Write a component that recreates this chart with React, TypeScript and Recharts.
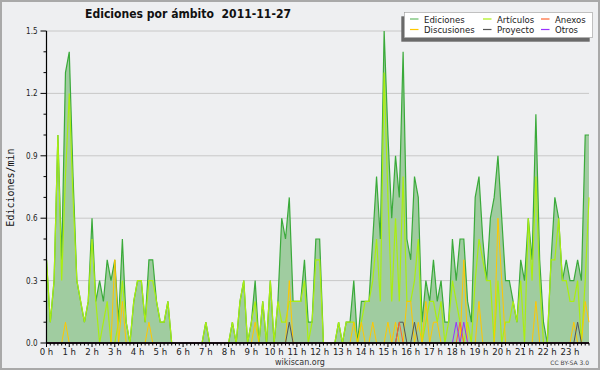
import { ComposedChart, Area, Line, XAxis, YAxis, CartesianGrid, ReferenceLine } from 'recharts';

// 10-minute slots, 0:00 .. 23:50 (values are edits per minute)
const EDICIONES = [
  0.4, 0.1, 0.3, 1.0, 0.4, 1.3, 1.4, 0.8, 0.3, 0.2, 0.1, 0.2,
  0.6, 0.2, 0.3, 0.2, 0.4, 0.3, 0.4, 0.1, 0.5, 0.1, 0, 0.2,
  0.3, 0.3, 0.1, 0.4, 0.4, 0.2, 0.1, 0.1, 0.2, 0, 0, 0,
  0, 0, 0, 0, 0, 0, 0.1, 0, 0, 0, 0, 0,
  0, 0.1, 0, 0.2, 0.3, 0, 0.1, 0.3, 0, 0.2, 0, 0.3,
  0, 0.2, 0.6, 0.5, 0.7, 0.2, 0.2, 0.2, 0.4, 0.1, 0.1, 0.5,
  0.5, 0, 0, 0, 0, 0.1, 0, 0.1, 0.1, 0.3, 0, 0.2,
  0.2, 0.2, 0.5, 0.8, 0.5, 1.5, 1.0, 0.6, 0.9, 0.7, 1.4, 0.5,
  0.4, 0.8, 0.7, 0.1, 0.3, 0.2, 0.4, 0.2, 0.3, 0.1, 0.1, 0.5,
  0.3, 0.5, 0.5, 0.2, 0.1, 0.7, 0.8, 0.5, 0.3, 0.6, 0.7, 0.9,
  0.6, 0.3, 0.3, 0.2, 0.1, 0.4, 0.3, 0.6, 0.4, 1.1, 0.4, 0.1,
  0, 0.4, 0.7, 0.6, 0.3, 0.4, 0.3, 0.3, 0.4, 0.3, 1.0, 1.0,
];

const ARTICULOS = [
  0.4, 0.1, 0.3, 1.0, 0.3, 0.8, 1.2, 0.7, 0.3, 0.2, 0.1, 0.2,
  0.5, 0.2, 0, 0.1, 0.2, 0, 0, 0.1, 0.3, 0.1, 0, 0.2,
  0.3, 0.3, 0.1, 0.3, 0.3, 0.2, 0.1, 0.1, 0.2, 0, 0, 0,
  0, 0, 0, 0, 0, 0, 0.1, 0, 0, 0, 0, 0,
  0, 0.1, 0, 0.2, 0.3, 0, 0.1, 0.2, 0, 0.2, 0, 0.3,
  0, 0.2, 0.1, 0.1, 0.2, 0.2, 0.2, 0.2, 0.3, 0, 0.1, 0.4,
  0.4, 0, 0, 0, 0, 0.1, 0, 0.1, 0.1, 0.1, 0, 0.1,
  0.2, 0.2, 0.3, 0.5, 0.2, 1.3, 0.7, 0.2, 0.6, 0.2, 0.8, 0.2,
  0.2, 0.3, 0.5, 0, 0.1, 0.2, 0.2, 0.1, 0.2, 0, 0.1, 0.3,
  0.2, 0.1, 0, 0.1, 0, 0.3, 0.5, 0.4, 0.3, 0.3, 0, 0.3,
  0, 0.1, 0.1, 0.2, 0.1, 0.3, 0, 0.6, 0.3, 0.8, 0.3, 0,
  0, 0.4, 0.4, 0.6, 0.3, 0.3, 0.2, 0.2, 0.3, 0, 0.3, 0.7,
];

const DISCUSIONES = [
  0, 0, 0, 0, 0, 0.1, 0, 0, 0, 0, 0, 0,
  0, 0, 0, 0, 0, 0, 0.4, 0, 0.2, 0, 0, 0,
  0, 0, 0, 0.1, 0, 0, 0, 0, 0, 0, 0, 0,
  0, 0, 0, 0, 0, 0, 0, 0, 0, 0, 0, 0,
  0, 0, 0, 0, 0, 0, 0, 0.1, 0, 0, 0, 0,
  0, 0, 0, 0, 0.3, 0, 0, 0, 0, 0, 0, 0,
  0, 0, 0, 0, 0, 0, 0, 0, 0, 0.1, 0, 0.1,
  0, 0, 0.1, 0, 0, 0, 0.1, 0, 0.1, 0, 0, 0.2,
  0.2, 0, 0.1, 0, 0.2, 0, 0.1, 0.1, 0, 0, 0, 0,
  0, 0, 0.4, 0, 0, 0, 0.2, 0, 0, 0, 0, 0.6,
  0.3, 0, 0, 0, 0, 0, 0, 0, 0, 0.2, 0, 0,
  0, 0, 0, 0, 0, 0, 0, 0.1, 0, 0, 0.2, 0.1,
];

const PROYECTO = [
  0, 0, 0, 0, 0, 0, 0, 0, 0, 0, 0, 0,
  0, 0, 0, 0, 0, 0, 0, 0, 0, 0, 0, 0,
  0, 0, 0, 0, 0, 0, 0, 0, 0, 0, 0, 0,
  0, 0, 0, 0, 0, 0, 0, 0, 0, 0, 0, 0,
  0, 0, 0, 0, 0, 0, 0, 0, 0, 0, 0, 0,
  0, 0, 0, 0, 0.1, 0, 0, 0, 0, 0, 0, 0,
  0, 0, 0, 0, 0, 0, 0, 0, 0, 0, 0, 0,
  0, 0, 0, 0, 0, 0, 0, 0, 0, 0.1, 0.1, 0,
  0, 0.1, 0, 0, 0, 0, 0, 0, 0, 0, 0, 0,
  0, 0, 0, 0, 0, 0, 0, 0, 0, 0, 0, 0,
  0, 0, 0, 0, 0, 0, 0, 0, 0, 0, 0, 0,
  0, 0, 0, 0, 0, 0, 0, 0, 0.1, 0, 0, 0,
];

const ANEXOS = [
  0, 0, 0, 0, 0, 0, 0, 0, 0, 0, 0, 0,
  0, 0, 0, 0, 0, 0, 0, 0, 0, 0, 0, 0,
  0, 0, 0, 0, 0, 0, 0, 0, 0, 0, 0, 0,
  0, 0, 0, 0, 0, 0, 0, 0, 0, 0, 0, 0,
  0, 0, 0, 0, 0, 0, 0, 0, 0, 0, 0, 0,
  0, 0, 0, 0, 0, 0, 0, 0, 0, 0, 0, 0,
  0, 0, 0, 0, 0, 0, 0, 0, 0, 0, 0, 0,
  0, 0, 0, 0, 0, 0, 0, 0, 0, 0.1, 0, 0,
  0, 0, 0, 0, 0, 0, 0, 0, 0, 0, 0, 0,
  0, 0.1, 0, 0, 0, 0, 0, 0, 0, 0, 0, 0,
  0, 0, 0, 0, 0, 0, 0, 0, 0, 0, 0, 0,
  0, 0, 0, 0, 0, 0, 0, 0, 0, 0, 0, 0,
];

const OTROS = [
  0, 0, 0, 0, 0, 0, 0, 0, 0, 0, 0, 0,
  0, 0, 0, 0, 0, 0, 0, 0, 0, 0, 0, 0,
  0, 0, 0, 0, 0, 0, 0, 0, 0, 0, 0, 0,
  0, 0, 0, 0, 0, 0, 0, 0, 0, 0, 0, 0,
  0, 0, 0, 0, 0, 0, 0, 0, 0, 0, 0, 0,
  0, 0, 0, 0, 0, 0, 0, 0, 0, 0, 0, 0,
  0, 0, 0, 0, 0, 0, 0, 0, 0, 0, 0, 0,
  0, 0, 0, 0, 0, 0, 0, 0, 0, 0, 0, 0,
  0, 0, 0, 0, 0, 0, 0, 0, 0, 0, 0, 0,
  0.1, 0, 0.1, 0, 0, 0, 0, 0, 0, 0, 0, 0,
  0, 0, 0, 0, 0, 0, 0, 0, 0, 0, 0, 0,
  0, 0, 0, 0, 0, 0, 0, 0, 0, 0, 0, 0,
];

const HOURS = [
  '0 h', '1 h', '2 h', '3 h', '4 h', '5 h', '6 h', '7 h', '8 h', '9 h', '10 h', '11 h',
  '12 h', '13 h', '14 h', '15 h', '16 h', '17 h', '18 h', '19 h', '20 h', '21 h', '22 h', '23 h',
];
const RATE_TICKS = [0, 0.1, 0.2, 0.3, 0.4, 0.5, 0.6, 0.7, 0.8, 0.9, 1.0, 1.1, 1.2, 1.3, 1.4, 1.5];
const GRID_VALUES = [0.3, 0.6, 0.9, 1.2, 1.5];

const SLOT_TICKS = EDICIONES.map((_, i) => i);

const rows = EDICIONES.map((v, i) => ({
  slot: i,
  ediciones: v,
  articulos: ARTICULOS[i],
  anexos: ANEXOS[i],
  discusiones: DISCUSIONES[i],
  proyecto: PROYECTO[i],
  otros: OTROS[i],
}));

const COLORS = {
  ediciones: '#3aaa3a',
  edicionesFill: '#a0cca0',
  articulos: '#aaee11',
  anexos: '#ff6633',
  discusiones: '#ffc800',
  proyecto: '#555555',
  otros: '#9933ff',
};

const LEGEND = [
  { label: 'Ediciones', color: '#66bb66', col: 0, row: 0 },
  { label: 'Artículos', color: COLORS.articulos, col: 1, row: 0 },
  { label: 'Anexos', color: COLORS.anexos, col: 2, row: 0 },
  { label: 'Discusiones', color: COLORS.discusiones, col: 0, row: 1 },
  { label: 'Proyecto', color: COLORS.proyecto, col: 1, row: 1 },
  { label: 'Otros', color: COLORS.otros, col: 2, row: 1 },
];
const LEGEND_COL_X = [410, 483, 541];
const LEGEND_ROW_Y = [19, 29.5];

const FONT = '"DejaVu Sans", sans-serif';

function HourTick({ x, y, payload }: any) {
  const slot = payload.value;
  const major = slot % 6 === 0;
  return (
    <g>
      <line x1={x} x2={x} y1={y} y2={y + (major ? 4 : 2.5)} stroke="#000" strokeWidth={1} />
      {major && (
        <text
          x={x}
          y={y + 11.5}
          textAnchor="middle"
          fontFamily={FONT}
          fontStretch="condensed"
          fontSize={9.5}
          fill="#222"
        >
          {HOURS[slot / 6]}
        </text>
      )}
    </g>
  );
}

function RateTick({ x, y, payload, index }: any) {
  const major = index % 3 === 0;
  return (
    <g>
      <line x1={x - (major ? 6 : 3)} x2={x} y1={y} y2={y} stroke="#000" strokeWidth={1} />
      {major && (
        <text
          x={x - 9}
          y={y + 3}
          textAnchor="end"
          fontFamily={FONT}
          fontStretch="condensed"
          fontSize={8}
          fill="#222"
        >
          {payload.value.toFixed(1)}
        </text>
      )}
    </g>
  );
}

export default function App() {
  return (
    <div style={{ position: 'relative', width: 600, height: 370, background: '#eeeff1' }}>
      <style>{'body{margin:0}'}</style>
      <div style={{ position: 'absolute', left: 0, top: 0 }}>
        <ComposedChart
          width={600}
          height={370}
          data={rows}
          margin={{ top: 31, right: 11, bottom: 0, left: 0 }}
        >
          <CartesianGrid
            horizontal
            vertical={false}
            horizontalValues={GRID_VALUES}
            stroke="#c8c8c8"
            strokeWidth={1}
          />
          <Area
            type="linear"
            dataKey="ediciones"
            stroke={COLORS.ediciones}
            strokeWidth={1.2}
            fill={COLORS.edicionesFill}
            fillOpacity={1}
            isAnimationActive={false}
          />
          <Line type="linear" dataKey="articulos" stroke={COLORS.articulos} strokeWidth={1.2} dot={false} isAnimationActive={false} />
          <Line type="linear" dataKey="discusiones" stroke={COLORS.discusiones} strokeWidth={1} dot={false} isAnimationActive={false} />
          <Line type="linear" dataKey="proyecto" stroke={COLORS.proyecto} strokeWidth={1} dot={false} isAnimationActive={false} />
          <Line type="linear" dataKey="anexos" stroke={COLORS.anexos} strokeWidth={1} dot={false} isAnimationActive={false} />
          <Line type="linear" dataKey="otros" stroke={COLORS.otros} strokeWidth={1} dot={false} isAnimationActive={false} />
          <ReferenceLine y={0} stroke="#000" strokeWidth={1.4} />
          <XAxis
            type="number"
            dataKey="slot"
            domain={[0, 143]}
            ticks={SLOT_TICKS}
            interval={0}
            height={27}
            tickSize={0}
            tickMargin={0}
            tickLine={false}
            axisLine={{ stroke: '#000', strokeWidth: 1.2 }}
            tick={<HourTick />}
          />
          <YAxis
            type="number"
            domain={[0, 1.5]}
            ticks={RATE_TICKS}
            interval={0}
            width={46.5}
            tickSize={0}
            tickMargin={0}
            tickLine={false}
            axisLine={{ stroke: '#000', strokeWidth: 1.2 }}
            tick={<RateTick />}
          />
        </ComposedChart>
      </div>
      <svg
        width={600}
        height={370}
        style={{ position: 'absolute', left: 0, top: 0, pointerEvents: 'none' }}
      >
        <rect x={1} y={1} width={598} height={368} fill="none" stroke="#a9a9a9" strokeWidth={2} />
        <text
          x={85}
          y={18}
          fontFamily={FONT}
          fontWeight="bold"
          fontSize={12.5}
          textLength={206}
          lengthAdjust="spacingAndGlyphs"
          fill="#111"
          style={{ whiteSpace: 'pre' }}
        >
          {'Ediciones por ámbito  2011-11-27'}
        </text>
        <rect x={401.3} y={16.3} width={188.4} height={25.4} fill="#6a6a6a" />
        <rect x={404.3} y={12.3} width={188.4} height={25.4} fill="#fff" stroke="#9a9a9a" strokeWidth={0.6} />
        {LEGEND.map((item) => {
          const lx = LEGEND_COL_X[item.col];
          const ly = LEGEND_ROW_Y[item.row];
          return (
            <g key={item.label}>
              <line x1={lx} x2={lx + 8.5} y1={ly} y2={ly} stroke={item.color} strokeWidth={1.2} />
              <text
                x={lx + 14}
                y={ly + 3.5}
                fontFamily={FONT}
                fontStretch="condensed"
                fontSize={9.5}
                fill="#222"
              >
                {item.label}
              </text>
            </g>
          );
        })}
        <text
          transform="translate(14 187.5) rotate(-90)"
          textAnchor="middle"
          fontFamily='"DejaVu Sans Mono", monospace'
          fontSize={10}
          fill="#111"
        >
          Ediciones/min
        </text>
        <text x={300} y={364.5} textAnchor="middle" fontFamily={FONT} fontSize={8} fill="#333">
          wikiscan.org
        </text>
        <text x={589} y={365} textAnchor="end" fontFamily={FONT} fontSize={6} fill="#444">
          CC BY-SA 3.0
        </text>
      </svg>
    </div>
  );
}
